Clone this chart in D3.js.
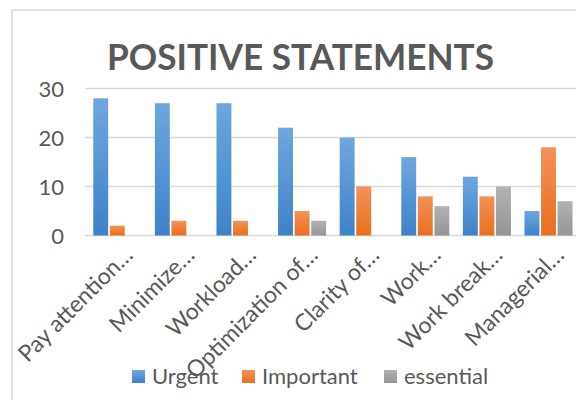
<!DOCTYPE html>
<html>
<head>
<meta charset="utf-8">
<script src="https://cdn.jsdelivr.net/npm/d3@7"></script>
<style>
  body { margin: 0; background: #fff; }
  text { font-family: Lato, "Open Sans", sans-serif; fill: #595959; }
</style>
</head>
<body>
<div class="canva"></div>
<script>
// data
const categories = ['Pay attention…', 'Minimize…', 'Workload…', 'Optimization of…',
  'Clarity of…', 'Work…', 'Work break…', 'Managerial…'];
const seriesNames = ['Urgent', 'Important', 'essential'];
const urgent = [28, 27, 27, 22, 20, 16, 12, 5];
const important = [2, 3, 3, 5, 10, 8, 8, 18];
const essential = [0, 0, 0, 3, 0, 6, 10, 7];
const yTicks = [0, 10, 20, 30];

const values = [urgent, important, essential];
const colors = [['#6fa7de', '#3d82c9'], ['#f39257', '#e96f1d'], ['#b2b2b2', '#959595']];

const canvas = d3.select('.canva');
const svg = canvas.append('svg')
  .attr('width', 576)
  .attr('height', 400);

// gradients like the office bars
const defs = svg.append('defs');
seriesNames.forEach((s, i) => {
  const g = defs.append('linearGradient')
    .attr('id', 'grad' + i)
    .attr('x1', 0).attr('y1', 0).attr('x2', 0).attr('y2', 1);
  g.append('stop').attr('offset', '0%').attr('stop-color', colors[i][0]);
  g.append('stop').attr('offset', '100%').attr('stop-color', colors[i][1]);
});

// chart frame (cropped on the right and bottom)
svg.append('rect')
  .attr('x', 12).attr('y', 10)
  .attr('width', 620).attr('height', 420)
  .attr('fill', 'none')
  .attr('stroke', '#d9d9d9')
  .attr('stroke-width', 1.5);

svg.append('text')
  .attr('x', 107).attr('y', 69.5)
  .attr('font-size', 36)
  .attr('font-weight', 'bold')
  .attr('textLength', 387)
  .attr('lengthAdjust', 'spacingAndGlyphs')
  .text('POSITIVE STATEMENTS');

const x0 = d3.scaleBand()
  .domain(categories)
  .range([86.5, 579.3])
  .paddingInner(0.22)
  .paddingOuter(0.11);

const x1 = d3.scaleBand()
  .domain(seriesNames)
  .range([0, x0.bandwidth()])
  .paddingInner(0.1);

const y = d3.scaleLinear()
  .domain([0, 30])
  .range([235.5, 88.5]);

// gridlines
svg.append('g')
  .selectAll('line')
  .data(yTicks)
  .enter().append('line')
  .attr('x1', 85).attr('x2', 576)
  .attr('y1', d => y(d)).attr('y2', d => y(d))
  .attr('stroke', '#d9d9d9')
  .attr('stroke-width', 1.5);

// y axis labels
svg.append('g')
  .selectAll('text')
  .data(yTicks)
  .enter().append('text')
  .attr('x', 64)
  .attr('y', d => y(d) + 8)
  .attr('text-anchor', 'end')
  .attr('font-size', 22)
  .text(d => d);

// bars
const groups = svg.append('g')
  .selectAll('g')
  .data(categories)
  .enter().append('g')
  .attr('transform', d => `translate(${x0(d)},0)`);

groups.selectAll('rect')
  .data((d, ci) => seriesNames.map((s, si) => ({ s, si, v: values[si][ci] })))
  .enter().append('rect')
  .filter(d => d.v > 0)
  .attr('x', d => x1(d.s))
  .attr('width', x1.bandwidth())
  .attr('y', d => y(d.v))
  .attr('height', d => y(0) - y(d.v))
  .attr('fill', d => `url(#grad${d.si})`);

// rotated category labels
svg.append('g')
  .selectAll('text')
  .data(categories)
  .enter().append('text')
  .attr('text-anchor', 'end')
  .attr('font-size', 23)
  .attr('transform', d => `translate(${x0(d) + x0.bandwidth() / 2 + 17},${y(0) + 21}) rotate(-45)`)
  .text(d => d);

// legend
const legendX = [132, 242, 384];
const legend = svg.append('g')
  .selectAll('g')
  .data(seriesNames)
  .enter().append('g')
  .attr('transform', (d, i) => `translate(${legendX[i]},370)`);

legend.append('rect')
  .attr('width', 13).attr('height', 13)
  .attr('fill', (d, i) => `url(#grad${i})`);

legend.append('text')
  .attr('x', 20).attr('y', 14)
  .attr('font-size', 22)
  .text(d => d);
</script>
</body>
</html>
